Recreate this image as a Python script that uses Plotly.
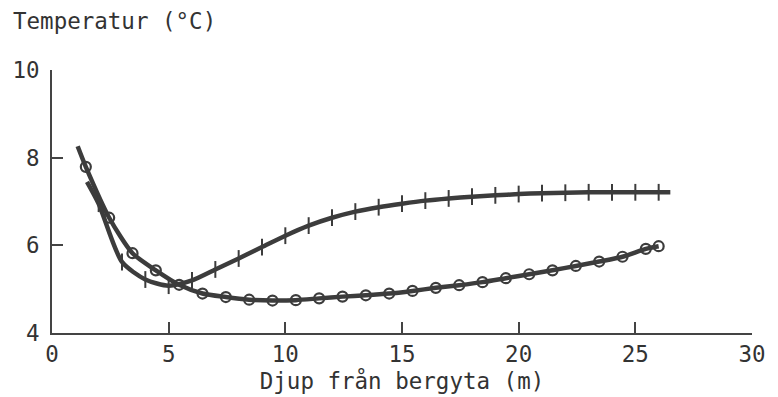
import plotly.graph_objects as go

# Curve with "+" markers
plus_x = [2, 3, 4, 5, 6, 7, 8, 9, 10, 11, 12, 13, 14, 15, 16, 17, 18, 19, 20, 21, 22, 23, 24, 25, 26]
plus_y = [6.95, 5.62, 5.22, 5.08, 5.2, 5.45, 5.7, 5.96, 6.22, 6.45, 6.63, 6.77, 6.87, 6.95, 7.02, 7.07, 7.11, 7.14, 7.17, 7.19, 7.2, 7.21, 7.21, 7.21, 7.21]
plus_line_x = [1.5] + plus_x + [26.5]
plus_line_y = [7.45] + plus_y + [7.21]

# Curve with "o" markers
circ_x = [1.45, 2.45, 3.45, 4.45, 5.45, 6.45, 7.45, 8.45, 9.45, 10.45, 11.45, 12.45, 13.45, 14.45,
          15.45, 16.45, 17.45, 18.45, 19.45, 20.45, 21.45, 22.45, 23.45, 24.45, 25.45, 26.0]
circ_y = [7.79, 6.63, 5.82, 5.43, 5.1, 4.9, 4.82, 4.76, 4.74, 4.75, 4.79, 4.83, 4.86, 4.9,
          4.96, 5.03, 5.09, 5.16, 5.25, 5.34, 5.43, 5.53, 5.63, 5.74, 5.92, 5.98]
circ_line_x = [1.1] + circ_x
circ_line_y = [8.26] + circ_y

x_ticks = [0, 5, 10, 15, 20, 25, 30]
y_ticks = [4, 6, 8, 10]

ink = "#3c3c3c"
font = dict(family="DejaVu Sans Mono", size=22.5, color="#333333")

fig = go.Figure()
fig.add_trace(go.Scatter(x=circ_line_x, y=circ_line_y, mode="lines",
                         line=dict(color=ink, width=4.5, shape="spline", smoothing=0.7),
                         hoverinfo="skip", showlegend=False))
fig.add_trace(go.Scatter(x=circ_x, y=circ_y, mode="markers",
                         marker=dict(symbol="circle-open", size=10, color=ink, line=dict(width=2.2, color=ink)),
                         showlegend=False))
fig.add_trace(go.Scatter(x=plus_line_x, y=plus_line_y, mode="lines",
                         line=dict(color=ink, width=4.5, shape="spline", smoothing=0.7),
                         hoverinfo="skip", showlegend=False))
fig.add_trace(go.Scatter(x=plus_x, y=plus_y, mode="markers",
                         marker=dict(symbol="line-ns-open", size=12, color=ink, line=dict(width=2, color=ink)),
                         showlegend=False))

fig.update_layout(
    width=778, height=397,
    margin=dict(l=51, r=17, t=70, b=62),
    paper_bgcolor="white", plot_bgcolor="white",
    font=font,
    xaxis=dict(range=[0, 30], tickvals=x_ticks, ticktext=[str(v) for v in x_ticks],
               showgrid=False, zeroline=False, showline=True, linecolor="#444444", linewidth=2,
               ticks="inside", ticklen=11, tickwidth=2, tickcolor="#444444",
               title=dict(text="Djup från bergyta (m)", standoff=2, font=font)),
    yaxis=dict(range=[4, 10], tickvals=y_ticks, ticktext=[str(v) for v in y_ticks],
               showgrid=False, zeroline=False, showline=True, linecolor="#444444", linewidth=2,
               ticks="inside", ticklen=11, tickwidth=2, tickcolor="#444444",
               ticklabelstandoff=6),
    annotations=[dict(text="Temperatur (°C)", xref="paper", yref="paper",
                      x=-42/710, y=(335 - 21) / 265, xanchor="left", yanchor="middle",
                      showarrow=False, font=font)],
)

fig.write_html("out.html")
